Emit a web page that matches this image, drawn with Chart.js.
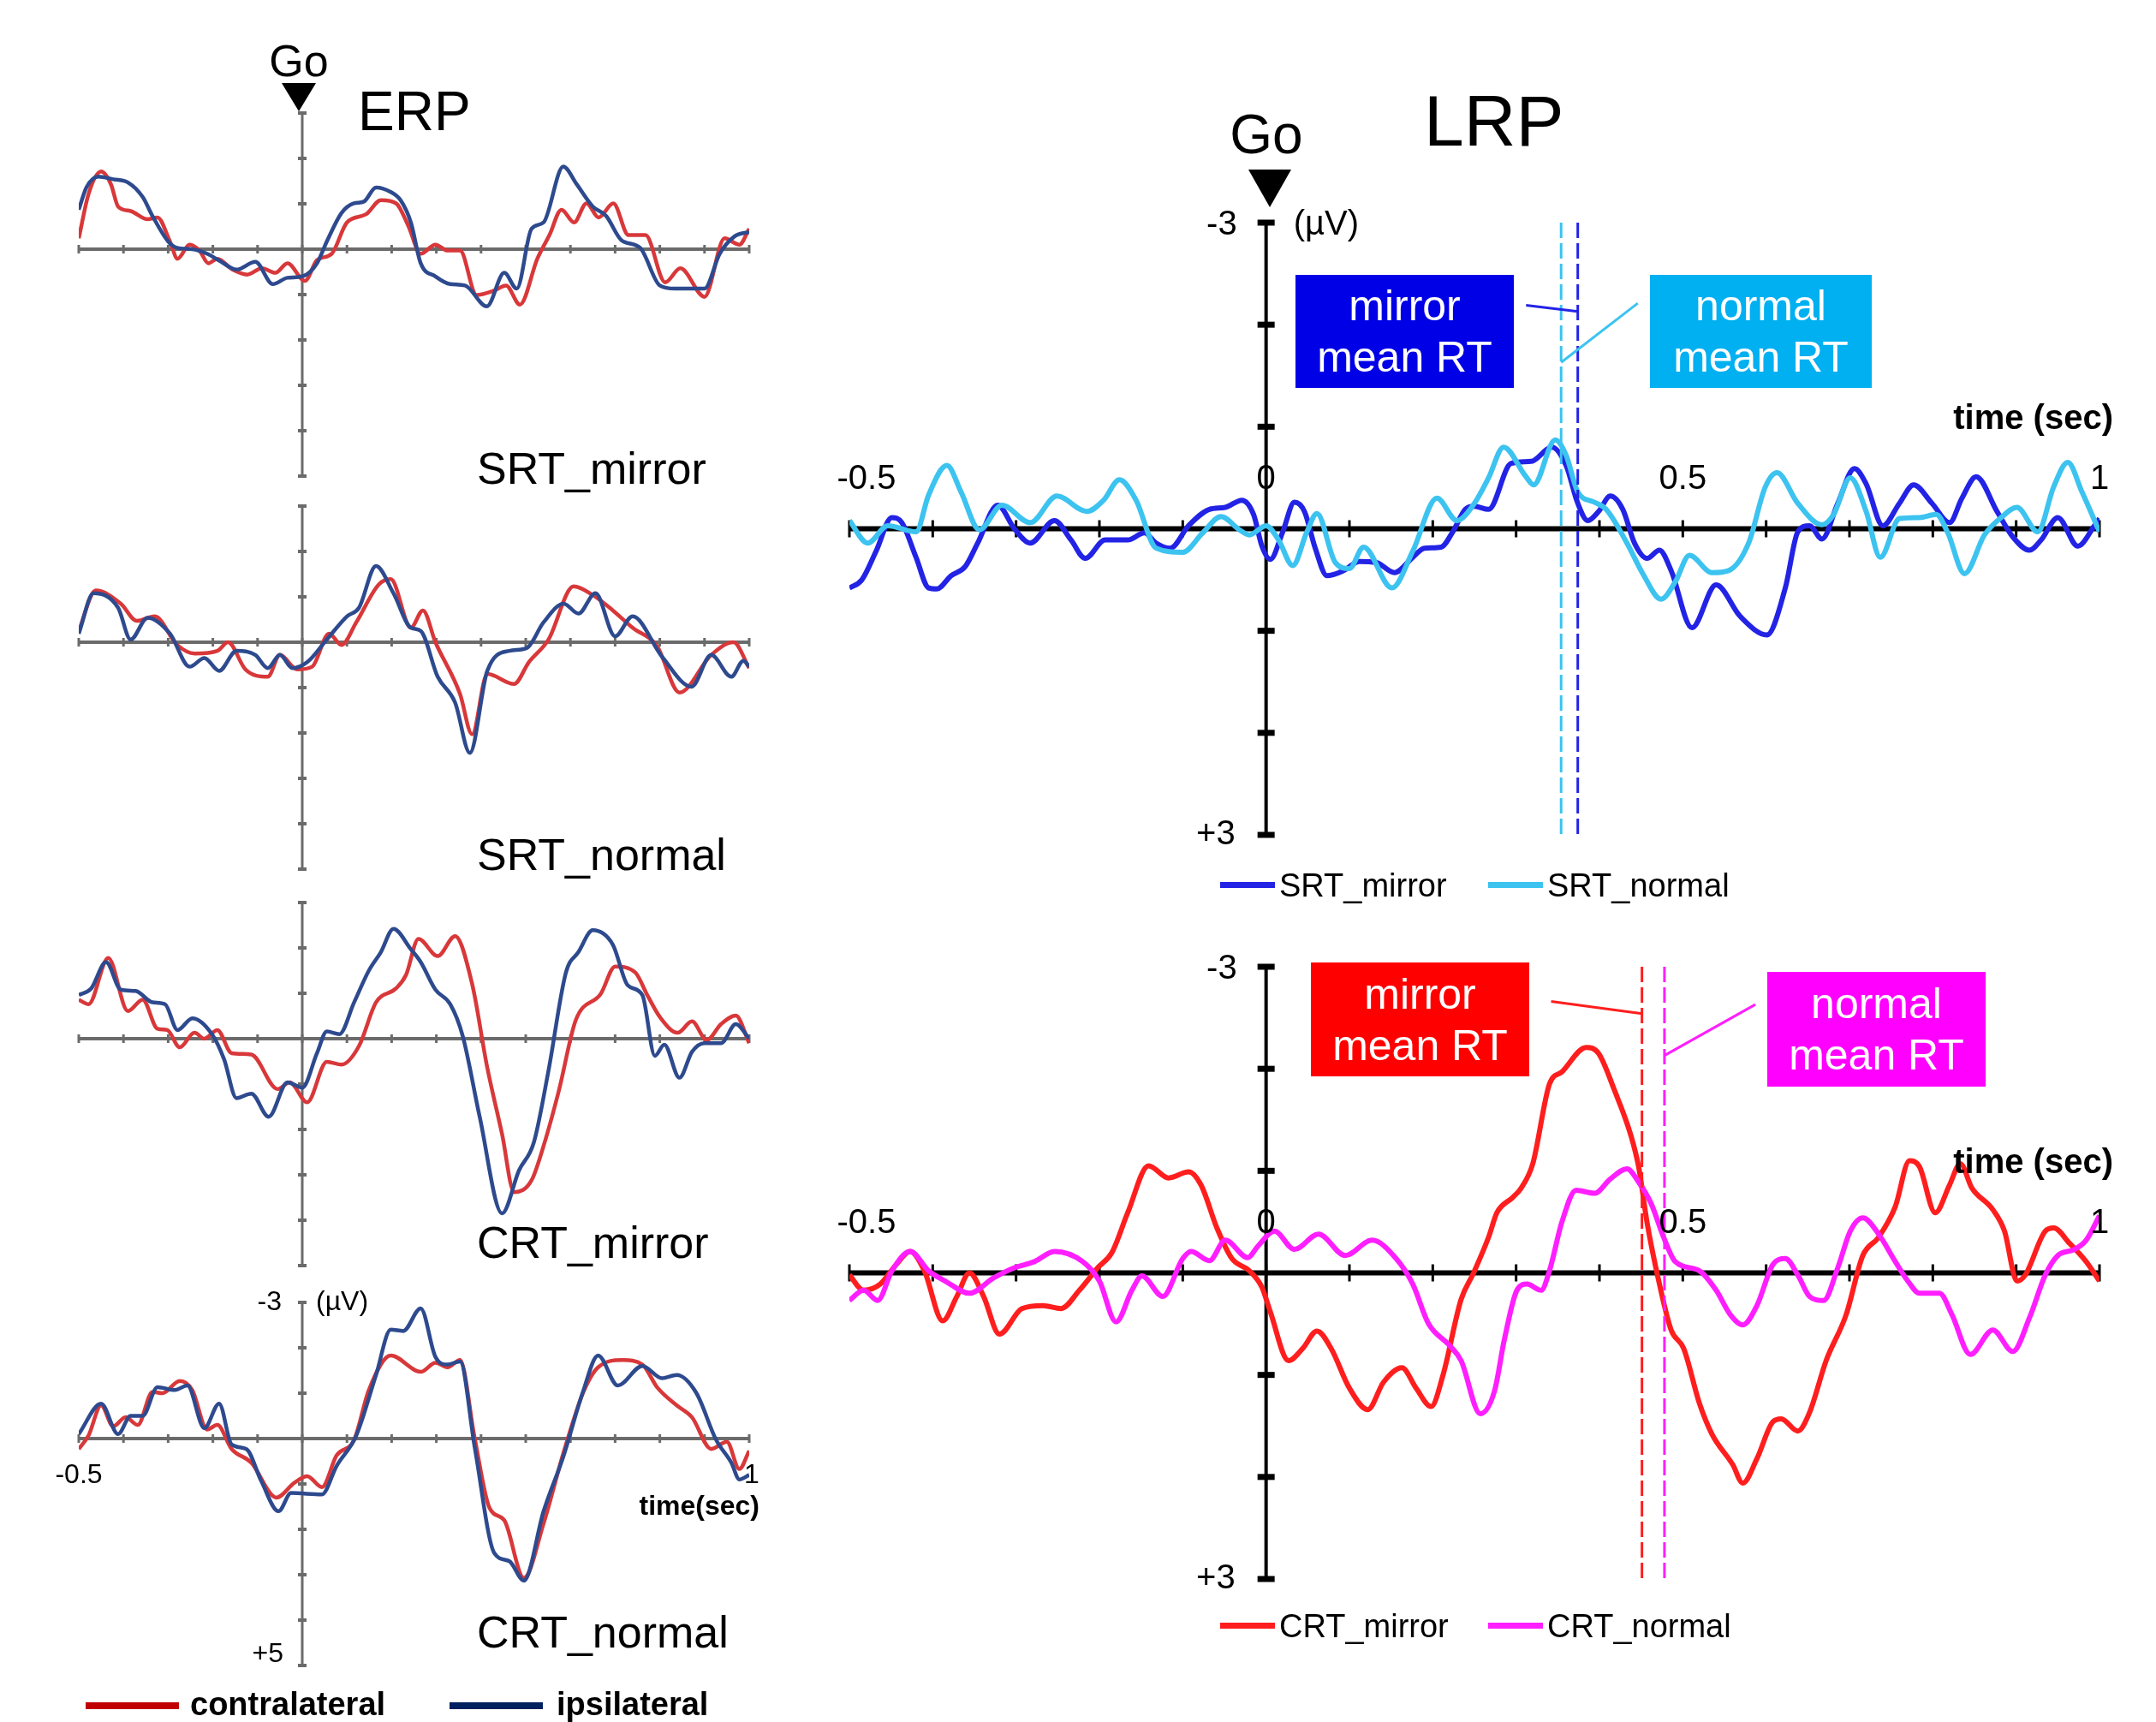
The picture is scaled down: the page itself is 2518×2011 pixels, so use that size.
<!DOCTYPE html>
<html>
<head>
<meta charset="utf-8">
<script src="https://cdn.jsdelivr.net/npm/chart.js@4.4.1/dist/chart.umd.min.js"></script>
<style>
  body { margin: 0; width: 2518px; height: 2011px; position: relative; overflow: hidden; background: #fff;
         font-family: "Liberation Sans", Arial, sans-serif; color: #000; }
  canvas { position: absolute; }
  .t { position: absolute; white-space: nowrap; line-height: 1; }
  .tri { position: absolute; width: 0; height: 0; }
  .box { position: absolute; display: flex; flex-direction: column; align-items: center; justify-content: center;
         color: #fff; font-size: 50px; line-height: 60px; }
  .key { position: absolute; }
</style>
</head>
<body>
<canvas id="erp1"></canvas>
<canvas id="erp2"></canvas>
<canvas id="erp3"></canvas>
<canvas id="erp4"></canvas>
<canvas id="lrpTop"></canvas>
<canvas id="lrpBot"></canvas>

<!-- ERP column -->
<div class="t" style="left:249px;top:45px;width:200px;text-align:center;font-size:52px;">Go</div>
<div class="tri" style="left:329px;top:97px;border-left:20px solid transparent;border-right:20px solid transparent;border-top:33px solid #000;"></div>
<div class="t" style="left:418px;top:98px;font-size:64px;">ERP</div>
<div class="t" style="left:557px;top:521px;font-size:52px;">SRT_mirror</div>
<div class="t" style="left:557px;top:972px;font-size:52px;">SRT_normal</div>
<div class="t" style="left:557px;top:1425px;font-size:52px;">CRT_mirror</div>
<div class="t" style="left:557px;top:1880px;font-size:52px;">CRT_normal</div>
<div class="key" style="left:100px;top:1988px;width:109px;height:8px;background:#c00000;"></div>
<div class="t" style="left:222px;top:1971px;font-size:38px;font-weight:bold;">contralateral</div>
<div class="key" style="left:525px;top:1988px;width:109px;height:8px;background:#002060;"></div>
<div class="t" style="left:650px;top:1971px;font-size:38px;font-weight:bold;">ipsilateral</div>

<!-- LRP column -->
<div class="t" style="left:1379px;top:125px;width:200px;text-align:center;font-size:64px;">Go</div>
<div class="tri" style="left:1458px;top:198px;border-left:25px solid transparent;border-right:25px solid transparent;border-top:44px solid #000;"></div>
<div class="t" style="left:1663px;top:99px;font-size:84px;">LRP</div>
<div class="box" style="left:1513px;top:321px;width:255px;height:132px;background:#0000e6;"><span>mirror</span><span>mean RT</span></div>
<div class="box" style="left:1927px;top:321px;width:259px;height:132px;background:#00b0f0;"><span>normal</span><span>mean RT</span></div>
<div class="box" style="left:1531px;top:1124px;width:255px;height:133px;background:#ff0000;"><span>mirror</span><span>mean RT</span></div>
<div class="box" style="left:2064px;top:1135px;width:255px;height:134px;background:#ff00ff;"><span>normal</span><span>mean RT</span></div>
<div class="key" style="left:1425px;top:1030px;width:64px;height:7px;background:#2323e6;"></div>
<div class="t" style="left:1494px;top:1015px;font-size:38px;">SRT_mirror</div>
<div class="key" style="left:1738px;top:1030px;width:64px;height:7px;background:#3cc3f0;"></div>
<div class="t" style="left:1807px;top:1015px;font-size:38px;">SRT_normal</div>
<div class="key" style="left:1425px;top:1895px;width:64px;height:7px;background:#ff1e1e;"></div>
<div class="t" style="left:1494px;top:1880px;font-size:38px;">CRT_mirror</div>
<div class="key" style="left:1738px;top:1895px;width:64px;height:7px;background:#ff1eff;"></div>
<div class="t" style="left:1807px;top:1880px;font-size:38px;">CRT_normal</div>

<script>
// ---------- ERP: time (s) / amplitude (µV), negative plotted upward ----------
const srtMirrorContraT = [-0.5,-0.478,-0.45,-0.428,-0.412,-0.384,-0.346,-0.324,-0.296,-0.279,-0.252,-0.23,-0.21,-0.19,-0.156,-0.123,-0.09,-0.06,-0.033,0.006,0.033,0.066,0.1,0.143,0.176,0.21,0.237,0.265,0.298,0.325,0.353,0.39,0.43,0.456,0.487,0.526,0.553,0.58,0.608,0.636,0.663,0.696,0.73,0.768,0.812,0.846,0.9,0.945,0.978,1.0];
const srtMirrorContraV = [-0.24,-1.22,-1.71,-1.43,-0.94,-0.84,-0.66,-0.70,-0.17,0.21,-0.10,0.03,0.31,0.21,0.45,0.56,0.42,0.52,0.31,0.70,0.24,0.10,-0.59,-0.77,-1.08,-1.01,-0.52,0.10,-0.10,0.03,0.03,1.01,0.91,0.80,1.22,0.21,-0.31,-0.87,-0.59,-1.01,-0.70,-1.01,-0.31,-0.31,0.73,0.42,1.05,-0.24,-0.10,-0.45];
const srtMirrorIpsiT = [-0.5,-0.483,-0.456,-0.423,-0.39,-0.357,-0.335,-0.30,-0.28,-0.246,-0.213,-0.186,-0.147,-0.105,-0.066,-0.033,0,0.033,0.055,0.088,0.116,0.138,0.165,0.198,0.22,0.243,0.265,0.298,0.331,0.364,0.413,0.452,0.48,0.513,0.54,0.584,0.614,0.65,0.68,0.714,0.756,0.80,0.834,0.872,0.90,0.934,0.967,1.0];
const srtMirrorIpsiV = [-0.87,-1.36,-1.60,-1.54,-1.47,-1.15,-0.73,-0.17,-0.03,0,0.10,0.25,0.45,0.28,0.77,0.63,0.60,0.31,-0.17,-0.80,-1.01,-1.05,-1.36,-1.26,-1.08,-0.59,0.31,0.60,0.77,0.80,1.26,0.52,0.87,-0.45,-0.59,-1.82,-1.43,-0.94,-0.73,-0.20,-0.03,0.80,0.87,0.87,0.87,0.10,-0.28,-0.38];

const srtNormalContraT = [-0.5,-0.462,-0.406,-0.37,-0.33,-0.28,-0.24,-0.19,-0.166,-0.127,-0.077,-0.05,-0.011,0.022,0.06,0.088,0.121,0.171,0.198,0.243,0.27,0.298,0.353,0.38,0.414,0.474,0.507,0.551,0.607,0.65,0.695,0.739,0.794,0.844,0.915,0.965,1.0];
const srtNormalContraV = [-0.25,-1.14,-0.85,-0.47,-0.57,0.06,0.25,0.19,0,0.60,0.76,0.28,0.60,0.54,-0.19,0.06,-0.44,-1.27,-1.39,-0.32,-0.70,0,1.14,2.03,0.70,0.92,0.44,-0.06,-1.23,-1.04,-0.70,-0.32,0.09,1.11,0.28,0,0.57];
const srtNormalIpsiT = [-0.5,-0.467,-0.412,-0.384,-0.346,-0.296,-0.252,-0.219,-0.186,-0.147,-0.105,-0.077,-0.05,-0.022,0.011,0.055,0.1,0.127,0.165,0.204,0.243,0.265,0.303,0.342,0.375,0.414,0.463,0.502,0.54,0.585,0.618,0.656,0.7,0.739,0.805,0.871,0.915,0.96,0.987,1.0];
const srtNormalIpsiV = [-0.19,-1.08,-0.76,-0.06,-0.54,-0.19,0.54,0.35,0.63,0.19,0.28,0.57,0.28,0.57,0.44,-0.06,-0.57,-0.76,-1.68,-1.08,-0.32,-0.25,0.76,1.33,2.44,0.63,0.19,0.13,-0.44,-0.85,-0.63,-1.08,-0.13,-0.57,0.32,0.98,0.28,0.76,0.41,0.54];

const crtMirrorContraT = [-0.5,-0.478,-0.434,-0.39,-0.357,-0.324,-0.302,-0.274,-0.241,-0.219,-0.19,-0.158,-0.114,-0.055,-0.028,0.011,0.055,0.088,0.127,0.165,0.21,0.232,0.26,0.303,0.342,0.38,0.414,0.447,0.474,0.513,0.54,0.574,0.612,0.668,0.7,0.745,0.772,0.8,0.84,0.872,0.905,0.937,0.97,1.0];
const crtMirrorContraV = [-0.86,-0.76,-1.78,-0.61,-0.86,-0.22,-0.19,0.19,-0.13,0,-0.19,0.32,0.35,1.11,0.96,1.40,0.51,0.57,0.16,-0.80,-1.11,-1.40,-2.20,-1.82,-2.26,-1.21,0.64,2.10,3.38,3.12,2.36,1.15,-0.41,-0.99,-1.59,-1.46,-0.96,-0.48,-0.13,-0.38,0.03,-0.32,-0.51,0.10];
const crtMirrorIpsiT = [-0.5,-0.472,-0.439,-0.406,-0.373,-0.335,-0.307,-0.279,-0.246,-0.202,-0.175,-0.147,-0.114,-0.075,-0.033,0,0.033,0.055,0.083,0.116,0.149,0.176,0.204,0.243,0.265,0.298,0.331,0.359,0.397,0.447,0.485,0.518,0.551,0.59,0.618,0.65,0.695,0.728,0.761,0.789,0.81,0.844,0.872,0.9,0.937,0.97,1.0];
const crtMirrorIpsiV = [-0.96,-1.11,-1.69,-1.08,-1.05,-0.80,-0.76,-0.19,-0.45,-0.10,0.45,1.31,1.21,1.72,0.96,1.08,0.32,-0.16,-0.10,-0.80,-1.50,-1.91,-2.42,-1.97,-1.69,-1.08,-0.76,-0.06,1.72,3.85,2.90,2.29,0.70,-1.46,-1.91,-2.39,-2.07,-1.18,-0.96,0.38,0.13,0.86,0.29,0.10,0.10,-0.32,0];

const crtNormalContraT = [-0.5,-0.478,-0.45,-0.423,-0.395,-0.368,-0.335,-0.313,-0.274,-0.246,-0.213,-0.19,-0.158,-0.114,-0.058,-0.017,0.011,0.044,0.077,0.116,0.149,0.198,0.265,0.298,0.325,0.353,0.386,0.419,0.452,0.496,0.54,0.584,0.628,0.662,0.717,0.761,0.794,0.838,0.872,0.915,0.95,0.978,1.0];
const crtNormalContraV = [0.23,-0.07,-0.73,-0.27,-0.47,-0.30,-1.03,-1.00,-1.27,-1.07,-0.20,-0.30,0.23,0.53,1.30,0.97,0.83,1.07,0.37,0.03,-1.07,-1.83,-1.47,-1.67,-1.57,-1.73,0,1.53,1.80,3.07,1.87,0.33,-1.00,-1.57,-1.73,-1.63,-1.13,-0.73,-0.47,0.23,0.07,0.67,0.27];
const crtNormalIpsiT = [-0.5,-0.45,-0.412,-0.384,-0.357,-0.324,-0.285,-0.257,-0.219,-0.186,-0.158,-0.125,-0.092,-0.053,-0.025,0.044,0.077,0.121,0.165,0.198,0.226,0.265,0.298,0.325,0.353,0.386,0.43,0.463,0.496,0.54,0.584,0.628,0.662,0.706,0.761,0.805,0.838,0.882,0.926,0.96,0.978,1.0];
const crtNormalIpsiV = [-0.10,-0.77,-0.10,-0.50,-0.50,-1.13,-1.07,-1.17,-0.23,-0.77,0.13,0.23,0.93,1.60,1.20,1.23,0.60,-0.07,-1.40,-2.40,-2.37,-2.87,-1.80,-1.63,-1.70,0.20,2.53,2.70,3.13,1.60,0.40,-1.03,-1.83,-1.17,-1.60,-1.33,-1.40,-1.00,0.03,0.53,0.90,0.80];

// ---------- LRP: [time (s), µV] ----------
const lrpSrtMirror = [[-0.5,0.58],[-0.485,0.50],[-0.468,0.22],[-0.449,-0.11],[-0.437,-0.06],[-0.42,0.28],[-0.405,0.58],[-0.395,0.59],[-0.378,0.46],[-0.361,0.37],[-0.346,0.14],[-0.322,-0.23],[-0.302,0],[-0.283,0.14],[-0.254,-0.08],[-0.234,0.11],[-0.217,0.29],[-0.193,0.11],[-0.166,0.11],[-0.146,0.04],[-0.132,0.14],[-0.115,0.19],[-0.093,-0.03],[-0.068,-0.19],[-0.049,-0.21],[-0.029,-0.28],[-0.015,-0.14],[-0.005,0.17],[0.005,0.30],[0.02,0.03],[0.034,-0.26],[0.046,-0.17],[0.059,0.19],[0.073,0.46],[0.093,0.41],[0.112,0.32],[0.132,0.33],[0.154,0.43],[0.176,0.28],[0.19,0.19],[0.21,0.18],[0.224,0.03],[0.239,-0.19],[0.25,-0.22],[0.267,-0.19],[0.294,-0.64],[0.318,-0.66],[0.343,-0.80],[0.36,-0.62],[0.374,-0.25],[0.386,-0.08],[0.399,-0.17],[0.413,-0.32],[0.428,-0.19],[0.442,0.14],[0.457,0.29],[0.472,0.21],[0.486,0.41],[0.511,0.97],[0.54,0.55],[0.569,0.86],[0.601,1.04],[0.623,0.58],[0.638,0.03],[0.652,-0.03],[0.667,0.10],[0.686,-0.25],[0.706,-0.59],[0.72,-0.44],[0.74,-0.03],[0.76,-0.25],[0.777,-0.43],[0.799,-0.25],[0.82,-0.06],[0.835,-0.30],[0.852,-0.51],[0.877,-0.17],[0.896,0.08],[0.916,0.21],[0.93,0.11],[0.95,-0.11],[0.974,0.17],[0.994,-0.03],[1.0,-0.10]];
const lrpSrtNormal = [[-0.5,-0.08],[-0.478,0.14],[-0.454,-0.03],[-0.42,0.03],[-0.405,-0.33],[-0.383,-0.62],[-0.366,-0.36],[-0.344,0.01],[-0.317,-0.23],[-0.283,-0.06],[-0.251,-0.32],[-0.215,-0.17],[-0.195,-0.28],[-0.176,-0.48],[-0.156,-0.28],[-0.132,0.19],[-0.1,0.23],[-0.076,0.04],[-0.054,-0.12],[-0.032,0.01],[-0.02,0.06],[0,-0.03],[0.015,0.11],[0.032,0.36],[0.049,0.03],[0.061,-0.15],[0.083,0.33],[0.1,0.39],[0.117,0.18],[0.151,0.58],[0.176,0.22],[0.205,-0.30],[0.229,-0.08],[0.25,-0.25],[0.267,-0.50],[0.285,-0.80],[0.311,-0.52],[0.321,-0.43],[0.347,-0.87],[0.36,-0.72],[0.374,-0.36],[0.394,-0.26],[0.408,-0.19],[0.433,0.14],[0.452,0.44],[0.474,0.69],[0.491,0.52],[0.508,0.26],[0.535,0.43],[0.555,0.41],[0.579,0.14],[0.599,-0.41],[0.613,-0.55],[0.638,-0.25],[0.667,-0.04],[0.681,-0.14],[0.701,-0.50],[0.72,-0.17],[0.737,0.28],[0.76,-0.10],[0.784,-0.11],[0.804,-0.14],[0.818,0.04],[0.838,0.44],[0.862,0.06],[0.882,-0.11],[0.901,-0.21],[0.926,0.03],[0.945,-0.41],[0.962,-0.65],[0.979,-0.36],[1.0,0.03]];
const lrpCrtMirror = [[-0.5,0.02],[-0.483,0.17],[-0.463,0.11],[-0.444,-0.08],[-0.427,-0.21],[-0.41,-0.02],[-0.388,0.47],[-0.371,0.23],[-0.356,0],[-0.339,0.23],[-0.32,0.60],[-0.293,0.35],[-0.268,0.32],[-0.246,0.35],[-0.224,0.17],[-0.202,-0.05],[-0.185,-0.20],[-0.166,-0.59],[-0.141,-1.05],[-0.117,-0.93],[-0.093,-0.99],[-0.078,-0.86],[-0.059,-0.44],[-0.041,-0.14],[-0.02,-0.02],[-0.005,0.14],[0.005,0.38],[0.027,0.86],[0.044,0.74],[0.061,0.57],[0.078,0.74],[0.1,1.13],[0.122,1.34],[0.141,1.07],[0.163,0.93],[0.18,1.13],[0.198,1.31],[0.212,1.01],[0.234,0.26],[0.249,0],[0.267,-0.35],[0.277,-0.59],[0.296,-0.74],[0.306,-0.83],[0.32,-1.07],[0.34,-1.85],[0.355,-1.97],[0.384,-2.21],[0.399,-2.15],[0.418,-1.79],[0.438,-1.34],[0.447,-1.04],[0.457,-0.50],[0.472,0.11],[0.486,0.56],[0.501,0.74],[0.52,1.28],[0.535,1.58],[0.56,1.88],[0.572,2.06],[0.589,1.82],[0.608,1.46],[0.618,1.43],[0.638,1.55],[0.652,1.37],[0.672,0.86],[0.696,0.41],[0.716,-0.17],[0.735,-0.35],[0.755,-0.65],[0.772,-1.10],[0.784,-1.04],[0.803,-0.59],[0.82,-0.86],[0.833,-1.07],[0.847,-0.83],[0.872,-0.62],[0.886,-0.41],[0.901,0.08],[0.911,0.02],[0.935,-0.41],[0.945,-0.44],[0.964,-0.29],[0.984,-0.11],[1.0,0.08]];
const lrpCrtNormal = [[-0.5,0.27],[-0.483,0.17],[-0.466,0.27],[-0.449,-0.02],[-0.427,-0.21],[-0.405,-0.02],[-0.385,0.08],[-0.356,0.20],[-0.327,0.05],[-0.302,-0.05],[-0.278,-0.11],[-0.254,-0.21],[-0.22,-0.11],[-0.2,0.08],[-0.18,0.48],[-0.161,0.17],[-0.149,0.03],[-0.124,0.23],[-0.1,-0.14],[-0.09,-0.21],[-0.068,-0.12],[-0.049,-0.32],[-0.022,-0.15],[-0.01,-0.26],[0.01,-0.41],[0.034,-0.23],[0.063,-0.38],[0.095,-0.17],[0.127,-0.32],[0.156,-0.14],[0.176,0.11],[0.195,0.50],[0.22,0.71],[0.234,0.86],[0.257,1.38],[0.274,1.16],[0.286,0.65],[0.301,0.17],[0.313,0.11],[0.33,0.17],[0.34,-0.02],[0.355,-0.50],[0.372,-0.81],[0.394,-0.78],[0.413,-0.92],[0.433,-1.02],[0.447,-0.89],[0.462,-0.68],[0.477,-0.35],[0.491,-0.11],[0.52,-0.02],[0.54,0.17],[0.557,0.41],[0.572,0.51],[0.589,0.32],[0.608,-0.08],[0.623,-0.14],[0.638,0.02],[0.652,0.23],[0.669,0.27],[0.686,-0.05],[0.701,-0.41],[0.716,-0.54],[0.735,-0.38],[0.755,-0.11],[0.77,0.08],[0.784,0.20],[0.808,0.20],[0.823,0.41],[0.845,0.80],[0.872,0.56],[0.896,0.77],[0.916,0.44],[0.935,0.02],[0.95,-0.17],[0.97,-0.23],[0.984,-0.32],[1.0,-0.56]];

// mean reaction times (s): [mirror, normal]
const srtMeanRT = [0.374, 0.354];
const crtMeanRT = [0.451, 0.478];

// axis ticks
const timeTicks = [-0.5,-0.4,-0.3,-0.2,-0.1,0,0.1,0.2,0.3,0.4,0.5,0.6,0.7,0.8,0.9,1.0];
const erpAmpTicks = [-3,-2,-1,1,2,3,4,5];
const lrpAmpTicks = [-3,-2,-1,1,2,3];

const ERP_RED = '#d8383a', ERP_BLUE = '#2e4a8e';
const C_SRT_M = '#2323e6', C_SRT_N = '#3cc3f0', C_CRT_M = '#ff1e1e', C_CRT_N = '#ff1eff';

const pts = (t, v) => t.map((x, i) => ({ x, y: v[i] }));
const pairPts = p => p.map(([x, y]) => ({ x, y }));

function trace(data, color, w) {
  return { data, borderColor: color, borderWidth: w, pointRadius: 0, fill: false,
           cubicInterpolationMode: 'monotone' };
}

function seg(ctx, x1, y1, x2, y2) {
  ctx.beginPath(); ctx.moveTo(x1, y1); ctx.lineTo(x2, y2); ctx.stroke();
}

// axes crossing at (0,0), mean-RT markers and labels
function crossAxes(d) {
  return {
    id: 'crossAxes',
    beforeDatasetsDraw(chart) {
      const { ctx, scales: { x, y } } = chart;
      const x0 = x.getPixelForValue(0), y0 = y.getPixelForValue(0);
      ctx.save();
      ctx.strokeStyle = d.color;
      ctx.lineWidth = d.xw;
      seg(ctx, x.getPixelForValue(x.min), y0, x.getPixelForValue(x.max), y0);
      ctx.lineWidth = d.yw;
      seg(ctx, x0, y.getPixelForValue(y.min), x0, y.getPixelForValue(y.max));
      ctx.lineWidth = d.xtw;
      d.xTicks.forEach(t => { const p = x.getPixelForValue(t); seg(ctx, p, y0 - d.xtl, p, y0 + d.xtl); });
      ctx.lineWidth = d.ytw;
      d.yTicks.forEach(v => { const p = y.getPixelForValue(v); seg(ctx, x0 - d.ytl, p, x0 + d.ytl, p); });
      ctx.restore();
    },
    afterDatasetsDraw(chart) {
      const { ctx, scales: { x, y } } = chart;
      ctx.save();
      (d.rt || []).forEach(r => {
        ctx.strokeStyle = r.color; ctx.lineWidth = 3; ctx.setLineDash([18, 6]);
        const p = x.getPixelForValue(r.t);
        seg(ctx, p, y.getPixelForValue(y.min), p, y.getPixelForValue(y.max));
      });
      ctx.setLineDash([]);
      (d.links || []).forEach(l => {
        ctx.strokeStyle = l.color; ctx.lineWidth = 3;
        seg(ctx, x.getPixelForValue(l.t1), y.getPixelForValue(l.v1), x.getPixelForValue(l.t2), y.getPixelForValue(l.v2));
      });
      ctx.fillStyle = '#000';
      ctx.textBaseline = 'middle';
      (d.labels || []).forEach(l => {
        ctx.font = l.font; ctx.textAlign = l.align || 'center';
        ctx.fillText(l.text, x.getPixelForValue(l.x) + (l.dx || 0), y.getPixelForValue(l.y) + (l.dy || 0));
      });
      ctx.restore();
    }
  };
}

function makeChart(id, area, yRange, datasets, deco) {
  const pad = 70;
  const cv = document.getElementById(id);
  cv.width = area.w + 2 * pad; cv.height = area.h + 2 * pad;
  cv.style.left = (area.x - pad) + 'px'; cv.style.top = (area.y - pad) + 'px';
  return new Chart(cv, {
    type: 'line',
    data: { datasets },
    options: {
      responsive: false, animation: false, devicePixelRatio: 1,
      layout: { padding: pad },
      plugins: { legend: { display: false }, tooltip: { enabled: false } },
      scales: {
        x: { type: 'linear', min: -0.5, max: 1.0, display: false },
        y: { type: 'linear', min: yRange[0], max: yRange[1], reverse: true, display: false }
      }
    },
    plugins: [crossAxes(deco)]
  });
}

const erpDeco = extra => Object.assign({ color: '#6b6b6b', xw: 4, yw: 3, xtw: 3, xtl: 5, ytw: 4, ytl: 5,
                                         xTicks: timeTicks, yTicks: erpAmpTicks }, extra || {});
const F_ERP = '32px "Liberation Sans"';

makeChart('erp1', { x: 92, y: 132, w: 783, h: 424 }, [-3, 5],
  [trace(pts(srtMirrorIpsiT, srtMirrorIpsiV), ERP_BLUE, 4.5), trace(pts(srtMirrorContraT, srtMirrorContraV), ERP_RED, 4.5)], erpDeco());
makeChart('erp2', { x: 92, y: 591, w: 783, h: 424 }, [-3, 5],
  [trace(pts(srtNormalIpsiT, srtNormalIpsiV), ERP_BLUE, 4.5), trace(pts(srtNormalContraT, srtNormalContraV), ERP_RED, 4.5)], erpDeco());
makeChart('erp3', { x: 92, y: 1054, w: 783, h: 424 }, [-3, 5],
  [trace(pts(crtMirrorIpsiT, crtMirrorIpsiV), ERP_BLUE, 4.5), trace(pts(crtMirrorContraT, crtMirrorContraV), ERP_RED, 4.5)], erpDeco());
makeChart('erp4', { x: 92, y: 1521, w: 783, h: 424 }, [-3, 5],
  [trace(pts(crtNormalIpsiT, crtNormalIpsiV), ERP_BLUE, 4.5), trace(pts(crtNormalContraT, crtNormalContraV), ERP_RED, 4.5)],
  erpDeco({ labels: [
    { text: '-3', x: 0, y: -3, dx: -24, align: 'right', font: F_ERP },
    { text: '(µV)', x: 0, y: -3, dx: 16, align: 'left', font: F_ERP },
    { text: '+5', x: 0, y: 5, dx: -22, dy: -13, align: 'right', font: F_ERP },
    { text: '-0.5', x: -0.5, y: 0, dy: 43, font: F_ERP },
    { text: '1', x: 1.0, y: 0, dx: 3, dy: 43, font: F_ERP },
    { text: 'time(sec)', x: 1.0, y: 0, dx: 12, dy: 80, align: 'right', font: 'bold 32px "Liberation Sans"' }
  ] }));

const F_LRP = '40px "Liberation Sans"';
const lrpLabels = (withUnit) => {
  const l = [
    { text: '-0.5', x: -0.5, y: 0, dx: 20, dy: -58, font: F_LRP },
    { text: '0', x: 0, y: 0, dy: -58, font: F_LRP },
    { text: '0.5', x: 0.5, y: 0, dy: -58, font: F_LRP },
    { text: '1', x: 1.0, y: 0, dy: -58, font: F_LRP },
    { text: '-3', x: 0, y: -3, dx: -34, dy: 3, align: 'right', font: F_LRP },
    { text: '+3', x: 0, y: 3, dx: -36, align: 'right', font: F_LRP },
    { text: 'time (sec)', x: 1.0, y: -1.07, dx: 16, align: 'right', font: 'bold 40px "Liberation Sans"' }
  ];
  if (withUnit) l.push({ text: '(µV)', x: 0, y: -3, dx: 32, dy: 3, align: 'left', font: F_LRP });
  return l;
};
const lrpDeco = extra => Object.assign({ color: '#000', xw: 6, yw: 4, xtw: 3, xtl: 10, ytw: 7, ytl: 10,
                                         xTicks: timeTicks, yTicks: lrpAmpTicks }, extra);

makeChart('lrpTop', { x: 992, y: 260, w: 1460, h: 715 }, [-3, 3],
  [trace(pairPts(lrpSrtNormal), C_SRT_N, 6), trace(pairPts(lrpSrtMirror), C_SRT_M, 6)],
  lrpDeco({
    rt: [{ t: srtMeanRT[0], color: C_SRT_M }, { t: srtMeanRT[1], color: C_SRT_N }],
    links: [{ t1: 0.312, v1: -2.19, t2: srtMeanRT[0], v2: -2.13, color: C_SRT_M },
            { t1: 0.446, v1: -2.21, t2: srtMeanRT[1], v2: -1.63, color: C_SRT_N }],
    labels: lrpLabels(true)
  }));

makeChart('lrpBot', { x: 992, y: 1129, w: 1460, h: 715 }, [-3, 3],
  [trace(pairPts(lrpCrtNormal), C_CRT_N, 6), trace(pairPts(lrpCrtMirror), C_CRT_M, 6)],
  lrpDeco({
    rt: [{ t: crtMeanRT[0], color: C_CRT_M }, { t: crtMeanRT[1], color: C_CRT_N }],
    links: [{ t1: 0.342, v1: -2.66, t2: crtMeanRT[0], v2: -2.54, color: C_CRT_M },
            { t1: 0.587, v1: -2.63, t2: crtMeanRT[1], v2: -2.13, color: C_CRT_N }],
    labels: lrpLabels(false)
  }));
</script>
</body>
</html>
